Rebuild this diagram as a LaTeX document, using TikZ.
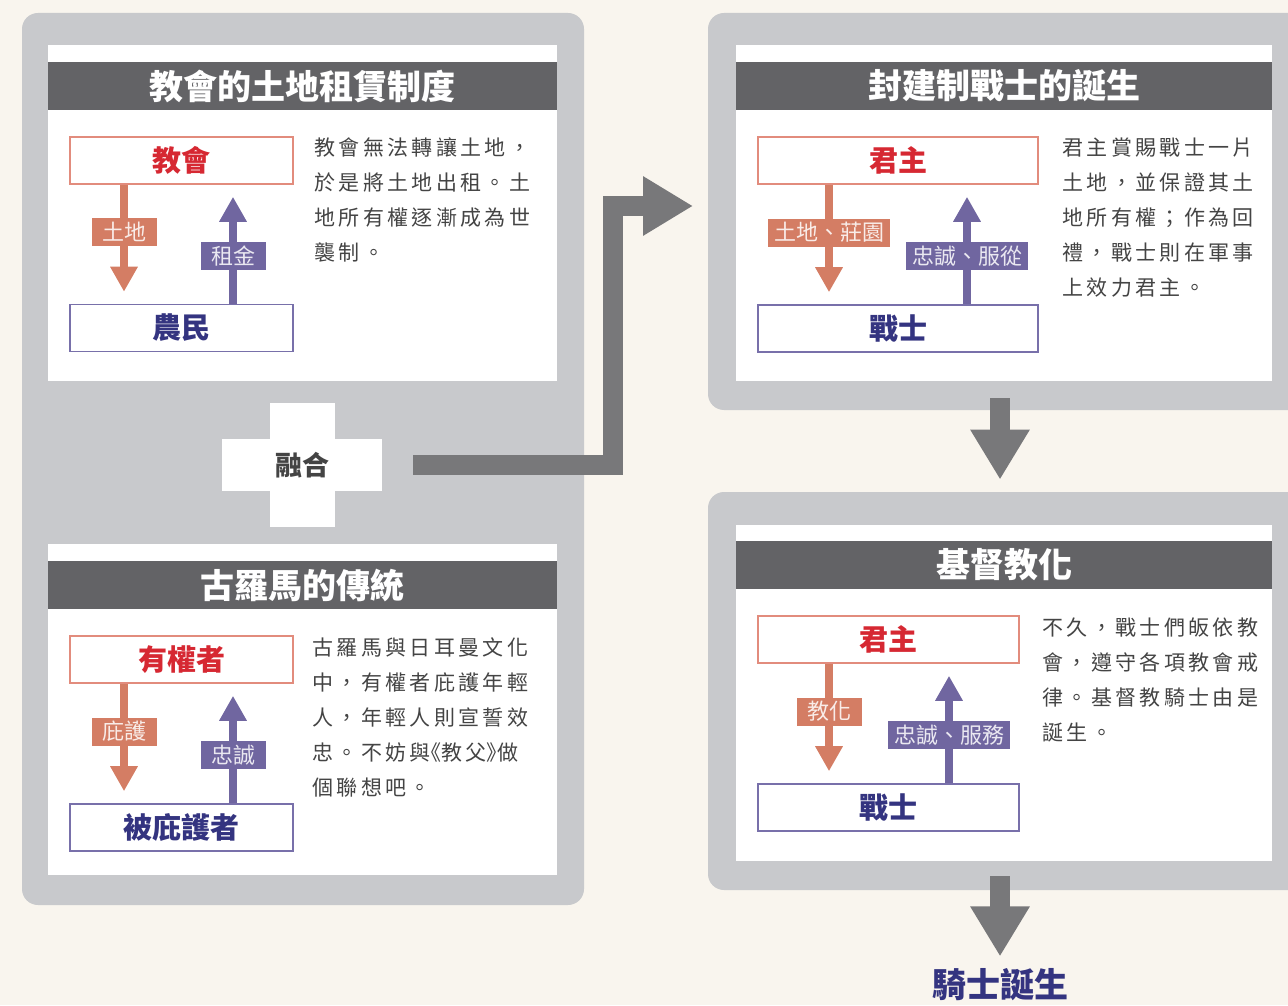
\documentclass[tikz,border=0pt]{standalone}
\usepackage{fontspec}
\setmainfont[Script=CJK, Language=Chinese Traditional]{Noto Sans CJK TC}
\newfontfamily\bodyfont[Script=CJK, Language=Chinese Traditional, LetterSpace=16]{Noto Sans CJK TC}
\newfontfamily\bodyhalt[Script=CJK, Language=Chinese Traditional, LetterSpace=16, RawFeature=+halt]{Noto Sans CJK TC}
\usepackage{tikz}
\usetikzlibrary{positioning, arrows.meta, calc}
\definecolor{cream}{RGB}{249,245,238}
\definecolor{panelgray}{RGB}{200,201,204}
\definecolor{headgray}{RGB}{99,99,102}
\definecolor{flowgray}{RGB}{120,120,122}
\definecolor{give}{RGB}{212,125,100}
\definecolor{lordline}{RGB}{226,140,125}
\definecolor{lordtext}{RGB}{214,40,50}
\definecolor{owe}{RGB}{112,102,160}
\definecolor{vassalline}{RGB}{120,112,170}
\definecolor{vassaltext}{RGB}{52,52,128}
\definecolor{ink}{RGB}{68,68,68}

\begin{document}
\begin{tikzpicture}[
  x=0.5pt, y=-0.5pt,
  pnl/.style={fill=panelgray, rounded corners=8pt, inner sep=0pt},
  crd/.style={fill=white, inner sep=0pt},
  hdr/.style={fill=headgray, text=white, minimum height=24pt, inner sep=0pt,
              font=\fontsize{17pt}{17pt}\selectfont\bfseries},
  lrd/.style={draw=lordline, line width=0.8pt, minimum height=23.5pt,
              inner sep=0pt, text=lordtext,
              font=\fontsize{14.5pt}{14.5pt}\selectfont\bfseries},
  vsl/.style={draw=vassalline, line width=0.8pt, minimum height=23.5pt,
              inner sep=0pt, text=vassaltext,
              font=\fontsize{14.5pt}{14.5pt}\selectfont\bfseries},
  giv/.style={draw=give, line width=4pt, shorten >=6pt,
              -{Triangle[length=12.5pt, width=13pt]}},
  ret/.style={draw=owe, line width=4pt, shorten >=6pt,
              -{Triangle[length=12.5pt, width=13pt]}},
  gtag/.style={fill=give, text=white!85!give, minimum width=32.5pt,
               minimum height=14pt, inner xsep=3pt, inner ysep=0pt,
               font=\fontsize{11pt}{11pt}\selectfont},
  rtag/.style={fill=owe, text=white!85!owe, minimum width=32.5pt,
               minimum height=14pt, inner xsep=3pt, inner ysep=0pt,
               font=\fontsize{11pt}{11pt}\selectfont},
  txt/.style={anchor=north west, align=left, inner sep=0pt, text=ink,
              font=\bodyfont\fontsize{10.5pt}{17.5pt}\selectfont},
  flw/.style={draw=flowgray, line width=10pt,
              -{Triangle[length=25pt, width=28pt]}},
  mrg/.style={fill=white, inner sep=0pt}]
  \useasboundingbox (0,0) rectangle (1288,1005);
  \fill[cream] (0,0) rectangle (1288,1005);
  \node[pnl, minimum width=281pt, minimum height=446pt] (panelL) at (303,459) {};
  \node[pnl, minimum width=301pt, minimum height=198.5pt] (panelTR) at (1009,211.5) {};
  \node[pnl, minimum width=301pt, minimum height=199pt] (panelBR) at (1009,691) {};
  \node[crd, minimum width=254.5pt, minimum height=168pt] (cardTL) at (302.5,213) {};
  \node[crd, minimum width=254.5pt, minimum height=165.5pt] (cardBL) at (302.5,709.5) {};
  \node[crd, minimum width=268pt, minimum height=168pt] (cardTR) at (1004,213) {};
  \node[crd, minimum width=268pt, minimum height=168pt] (cardBR) at (1004,693) {};
  \node[hdr, minimum width=254.5pt] (headTL) at (302.5,86) {教會的土地租賃制度};
  \node[hdr, minimum width=254.5pt] (headBL) at (302.5,585) {古羅馬的傳統};
  \node[hdr, minimum width=268pt] (headTR) at (1004,86) {封建制戰士的誕生};
  \node[hdr, minimum width=268pt] (headBR) at (1004,565) {基督教化};

  \node[lrd, minimum width=111.5pt] (church) at (181.5,160.5) {教會};
  \node[vsl, minimum width=111.5pt] (peasant) at (181.5,328) {農民};
  \draw[giv] (church.south -| 124,0) -- node[gtag, pos=.4] (tagLand) {土地} (peasant.north -| 124,0);
  \draw[ret] (peasant.north -| 233,0) -- node[rtag, pos=.4] (tagRent) {租金} (church.south -| 233,0);
  \node[txt] (noteTL) at (314,137.5) {教會無法轉讓土地，\\於是將土地出租。土\\地所有權逐漸成為世\\襲制。};

  \node[lrd, minimum width=111.5pt] (patron) at (181.5,659.5) {有權者};
  \node[vsl, minimum width=111.5pt] (client) at (181.5,827.5) {被庇護者};
  \draw[giv] (patron.south -| 124,0) -- node[gtag, pos=.4] (tagGuard) {庇護} (client.north -| 124,0);
  \draw[ret] (client.north -| 233,0) -- node[rtag, pos=.4] (tagFaith) {忠誠} (patron.south -| 233,0);
  \node[txt] (noteBL) at (312,637.5) {古羅馬與日耳曼文化\\中，有權者庇護年輕\\人，年輕人則宣誓效\\忠。不妨與{\bodyhalt 《}教父{\bodyhalt 》}做\\個聯想吧。};

  \node[lrd, minimum width=140pt] (lordA) at (898,160.5) {君主};
  \node[vsl, minimum width=140pt] (warriorA) at (898,328.5) {戰士};
  \draw[giv] (lordA.south -| 829,0) -- node[gtag, pos=.4] (tagFief) {土地、莊園} (warriorA.north -| 829,0);
  \draw[ret] (warriorA.north -| 967,0) -- node[rtag, pos=.4] (tagObey) {忠誠、服從} (lordA.south -| 967,0);
  \node[txt] (noteTR) at (1062,137.5) {君主賞賜戰士一片\\土地，並保證其土\\地所有權；作為回\\禮，戰士則在軍事\\上效力君主。};

  \node[lrd, minimum width=130.5pt] (lordB) at (888.5,639.5) {君主};
  \node[vsl, minimum width=130.5pt] (warriorB) at (888.5,807.5) {戰士};
  \draw[giv] (lordB.south -| 829,0) -- node[gtag, pos=.4] (tagTeach) {教化} (warriorB.north -| 829,0);
  \draw[ret] (warriorB.north -| 949,0) -- node[rtag, pos=.4] (tagServe) {忠誠、服務} (lordB.south -| 949,0);
  \node[txt] (noteBR) at (1042,617.5) {不久，戰士們皈依教\\會，遵守各項教會戒\\律。基督教騎士由是\\誕生。};

  \node[mrg, minimum width=32.5pt, minimum height=62pt] (mergeV) at (302,465) {};
  \node[mrg, minimum width=80pt, minimum height=26pt, text=ink,
        font=\fontsize{13.5pt}{13.5pt}\selectfont\bfseries] (merge) at (302,465) {融合};
  \coordinate (feudalIn) at (693,206);
  \draw[flw, line join=miter] ([xshift=15.5pt]merge.east) -| (613,206) -- (feudalIn);

  \node[inner sep=0pt, text=vassaltext,
        font=\fontsize{17pt}{17pt}\selectfont\bfseries] (knight) at (1000,985) {騎士誕生};
  \draw[flw] ($(panelTR.south -| knight)+(0,-12)$) -- ($(panelBR.north -| knight)+(0,-12)$);
  \draw[flw, shorten >=6pt] ($(panelBR.south -| knight)+(0,-14)$) -- (knight.north);
\end{tikzpicture}
\end{document}
